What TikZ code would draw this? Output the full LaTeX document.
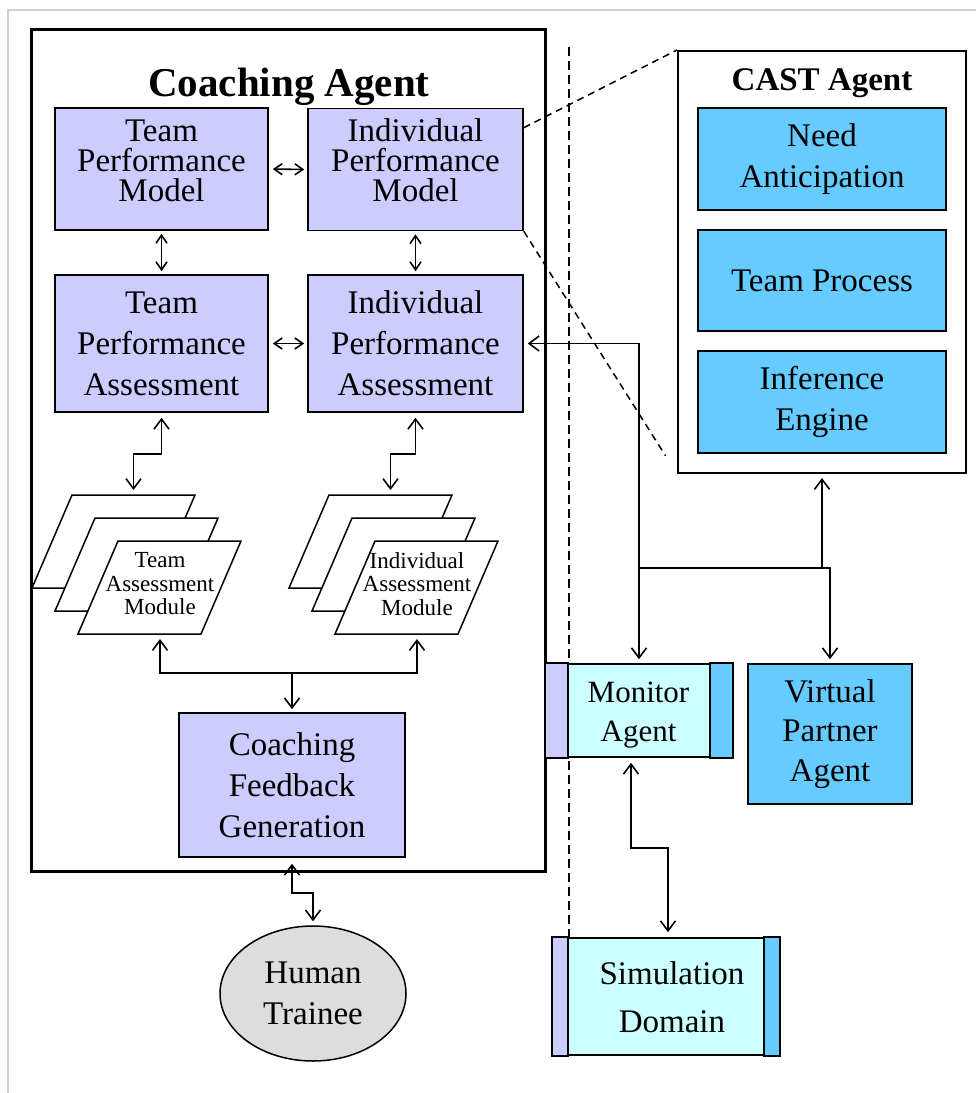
\documentclass[tikz,border=0pt]{standalone}
\usepackage{fontspec}
\setmainfont{Liberation Serif}
\usetikzlibrary{arrows.meta,shapes.geometric,calc}

\definecolor{lav}{HTML}{CCCCFF}
\definecolor{sky}{HTML}{66CCFF}
\definecolor{pale}{HTML}{CCFFFF}
\definecolor{trainee}{HTML}{DDDDDD}
\definecolor{framegray}{HTML}{D0D0D0}

% one slanted assessment-module sheet, given its lower left corner
\newcommand\modsheet[2]{%
  \filldraw[fill=white, line width=1.5pt, line join=miter]
    (#1,#2) -- ++(123,0) -- ++(40,-93) -- ++(-123,0) -- cycle;}

\begin{document}
\begin{tikzpicture}[x=1pt, y=-1pt,
  >={Straight Barb[length=10pt,width=15pt]},
  box/.style={draw, line width=1.6pt, inner sep=0pt, align=center,
              font=\fontsize{33}{41}\selectfont},
  modeltext/.style={inner sep=0pt, align=center, font=\fontsize{33}{30}\selectfont},
  sheettext/.style={inner sep=0pt, align=center, font=\fontsize{23}{23.5}\selectfont},
  conn/.style={line width=1.6pt, line join=miter},
  small/.style={>={Straight Barb[length=8pt,width=11pt]}},
  guide/.style={line width=1.5pt, dash pattern=on 7pt off 5pt},
  divider/.style={line width=2pt, dash pattern=on 9pt off 5pt}]

\useasboundingbox (0,0) rectangle (976,1093);
\draw[framegray, line width=2pt] (8,1093) -- (8,10) -- (976,10);

% vertical divider between coaching side and team side
\draw[divider] (569,47) -- (569,938);

% ---------------- Coaching agent ----------------
\draw[line width=3pt] (31,29) rectangle (545,871);
\node[inner sep=0pt, anchor=base, font=\bfseries\fontsize{41}{41}\selectfont]
  (coachtitle) at (289,96) {Coaching Agent};

\node[box, fill=lav, minimum width=213pt, minimum height=122pt] (tpm) at (161.5,169) {};
\node[modeltext] (tpmtext) at (161.5,161) {Team\\Performance\\Model};
\node[box, fill=lav, minimum width=215pt, minimum height=122pt] (ipm) at (415.5,169.5) {};
\node[modeltext] (ipmtext) at (415.5,160.5) {Individual\\Performance\\Model};

\node[box, fill=lav, minimum width=213pt, minimum height=137pt] (tpa) at (161.5,343.5)
  {Team\\Performance\\Assessment};
\node[box, fill=lav, minimum width=215pt, minimum height=137pt] (ipa) at (415.5,343.5)
  {Individual\\Performance\\Assessment};

\draw[conn, small, <->, shorten <=4pt, shorten >=3pt] (tpm.east) -- (ipm.west);
\draw[conn, small, <->, shorten <=4pt, shorten >=3pt] (tpa.east) -- (ipa.west);
\draw[conn, small, <->, shorten <=3pt, shorten >=3pt] (tpm.south) -- (tpa.north);
\draw[conn, small, <->, shorten <=3pt, shorten >=3pt] (ipm.south) -- (ipa.north);

% assessment module stacks
\modsheet{32}{588}\modsheet{55}{611}\modsheet{78}{634}
\modsheet{289}{588}\modsheet{312}{611}\modsheet{335}{634}
\coordinate (tmtop) at (133.5,494);
\coordinate (imtop) at (390.5,494);
\coordinate (tmbot) at (160,634);
\coordinate (imbot) at (417,634);
\node[sheettext] (tmtext) at (160,584) {Team\\Assessment\\Module};
\node[sheettext] (imtext) at (417,584) {Individual\\Assessment\\Module};

\draw[conn, <->, shorten <=5pt, shorten >=4pt] (tpa.south) -- ++(0,41) -| (tmtop);
\draw[conn, <->, shorten <=5pt, shorten >=4pt] (ipa.south) -- ++(0,41) -| (imtop);

\node[box, fill=lav, minimum width=226pt, minimum height=144pt] (cfg) at (292,785)
  {Coaching\\Feedback\\Generation};

\coordinate (fan) at (292,673);
\draw[conn, ->, shorten >=5pt] (fan) -| (tmbot);
\draw[conn, ->, shorten >=5pt] (fan) -| (imbot);
\draw[conn, ->, shorten >=3pt] (fan) -- (cfg.north);

% trainee
\node[ellipse, draw, line width=1.5pt, fill=trainee, inner sep=0pt,
      minimum width=186pt, minimum height=135pt, align=center,
      font=\fontsize{33}{41}\selectfont] (ht) at (313,993.5) {Human\\Trainee};
\draw[conn, <->, shorten <=6pt, shorten >=4pt] (cfg.south) -- ++(0,35) -| (ht.north);

% ---------------- CAST agent ----------------
\node[draw, line width=2pt, inner sep=0pt, minimum width=288pt, minimum height=422pt]
  (cast) at (822,262) {};
\node[inner sep=0pt, anchor=base, font=\bfseries\fontsize{33}{33}\selectfont]
  (casttitle) at (822,90) {CAST Agent};
\node[box, fill=sky, minimum width=248pt, minimum height=102pt] (need) at (822,159)
  {Need\\Anticipation};
\node[box, fill=sky, minimum width=248pt, minimum height=101pt] (proc) at (822,280.5)
  {Team Process};
\node[box, fill=sky, minimum width=248pt, minimum height=102pt] (infer) at (822,402)
  {Inference\\Engine};

\draw[guide] ($(ipm.north east)+(0,20)$) -- (cast.north west);
\draw[guide] (ipm.south east) -- ($(ipm.south east)!0.925!(cast.south west)$);

% ---------------- monitor, partner, simulation ----------------
\node[box, fill=pale, minimum width=186pt, minimum height=93pt] (mon) at (639,710.5) {};
\filldraw[fill=lav, line width=1.6pt] (mon.north west) rectangle ([xshift=23pt]mon.south west);
\filldraw[fill=sky, line width=1.6pt] ([xshift=-23pt]mon.north east) rectangle (mon.south east);
\node[inner sep=0pt, align=center, font=\fontsize{31}{39}\selectfont]
  (montext) at (638.5,715) {Monitor\\Agent};

\node[box, fill=sky, minimum width=164pt, minimum height=140pt,
      font=\fontsize{33}{39.5}\selectfont] (vpa) at (830,734) {Virtual\\Partner\\Agent};

\node[box, fill=pale, minimum width=226pt, minimum height=117pt] (sim) at (666,996.5) {};
\filldraw[fill=lav, line width=1.6pt] (sim.north west) rectangle ([xshift=16pt]sim.south west);
\filldraw[fill=sky, line width=1.6pt] ([xshift=-16pt]sim.north east) rectangle (sim.south east);
\node[inner sep=0pt, align=center, font=\fontsize{33}{48}\selectfont]
  (simtext) at (672,997.5) {Simulation\\Domain};

\coordinate (bus) at (639,568);
\draw[conn, ->, shorten >=4pt] (bus) |- (ipa.east);
\draw[conn, ->, shorten >=4pt] (bus) -- (mon.north);
\draw[conn, ->, shorten >=4pt] (bus) -| (vpa.north);
\draw[conn, ->, shorten >=4pt] (cast.south |- bus) -- (cast.south);
\draw[conn, <->, shorten <=5pt, shorten >=5pt]
  ([xshift=-8pt]mon.south) -- ++(0,90) -| ([xshift=2pt]sim.north);

\end{tikzpicture}
\end{document}
